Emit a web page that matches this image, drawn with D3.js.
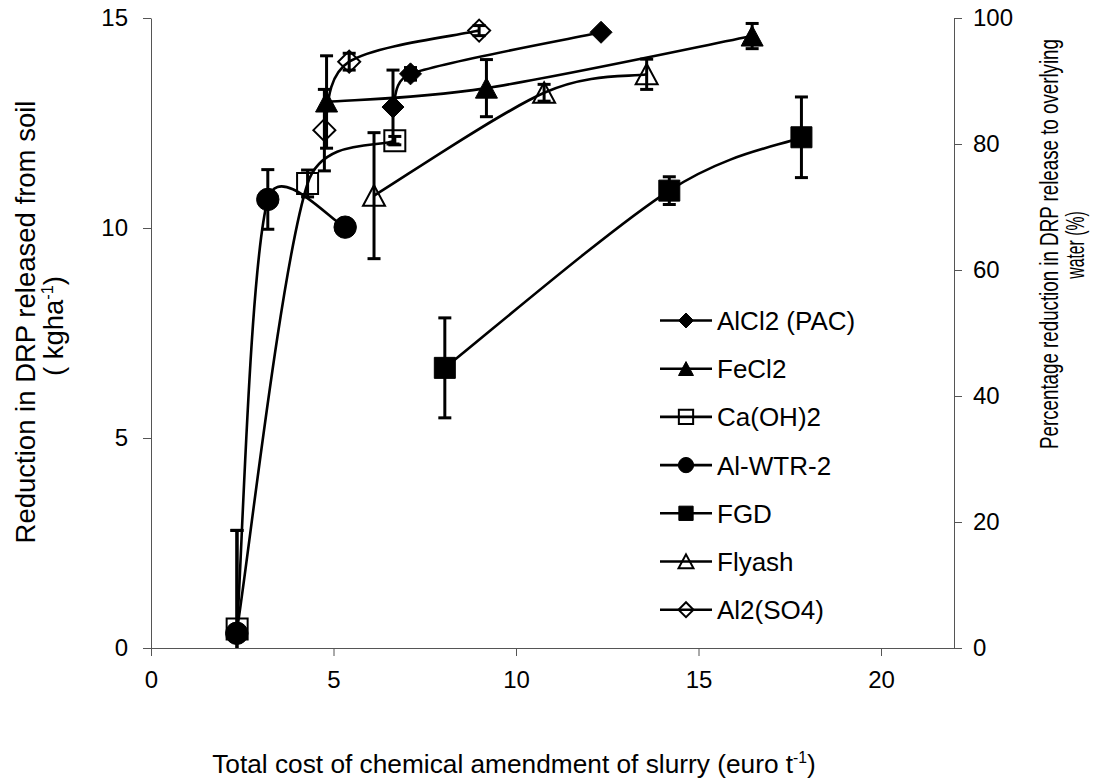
<!DOCTYPE html>
<html><head><meta charset="utf-8">
<script src="https://cdn.jsdelivr.net/npm/d3@7"></script>
<style>
body{margin:0;background:#fff}
text{font-family:"Liberation Sans",Arial,sans-serif;fill:#000}
</style>
</head><body>
<svg id="chart" width="1097" height="780"></svg>
<script>
// ---------------- data ----------------
const seriesNames = ["AlCl2 (PAC)", "FeCl2", "Ca(OH)2", "Al-WTR-2", "FGD", "Flyash", "Al2(SO4)"];
const alcl2Cost = [6.63, 7.11, 12.33], alcl2Red = [12.88, 13.67, 14.66], alcl2Err = [0.88, 0.15, 0];
const fecl2Cost = [4.81, 9.19, 16.47], fecl2Red = [13.0, 13.33, 14.57], fecl2Err = [1.1, 0.68, 0.3];
const caohCost  = [2.36, 4.29, 6.68],  caohRed  = [0.45, 11.06, 12.08], caohErr  = [2.35, 0.32, 0.1];
const wtrCost   = [2.35, 3.2, 5.32],   wtrRed   = [0.35, 10.68, 10.02], wtrErr   = [2.45, 0.71, 0];
const fgdCost   = [8.05, 14.2, 17.82], fgdRed   = [6.67, 10.89, 12.16], fgdErr   = [1.19, 0.33, 0.96];
const flyCost   = [6.11, 10.77, 13.58], flyRed  = [10.77, 13.22, 13.66], flyErr  = [1.5, 0.2, 0.36];
const alsoCost  = [4.75, 5.43, 8.99],  alsoRed  = [12.33, 13.96, 14.7], alsoErr  = [0.97, 0.2, 0.12];
const xTicks = [0, 5, 10, 15, 20];
const yTicks = [0, 5, 10, 15];
const y2Ticks = [0, 20, 40, 60, 80, 100];

// ---------------- build ----------------
const costs = [alcl2Cost, fecl2Cost, caohCost, wtrCost, fgdCost, flyCost, alsoCost];
const reds  = [alcl2Red, fecl2Red, caohRed, wtrRed, fgdRed, flyRed, alsoRed];
const errs  = [alcl2Err, fecl2Err, caohErr, wtrErr, fgdErr, flyErr, alsoErr];
const shapes = ["diamond", "triangle", "square", "circle", "square", "triangle", "diamond"];
const filled = [true, true, false, true, true, false, false];
const series = seriesNames.map((name, i) => ({
  name, shape: shapes[i], filled: filled[i],
  pts: costs[i].map((c, j) => ({x: c, y: reds[i][j], e: errs[i][j]}))
}));

const svg = d3.select("#chart");
const L = 151, R = 954, T = 18, B = 648;
const x = d3.scaleLinear().domain([0, 22]).range([L, R]);
const y = d3.scaleLinear().domain([0, 15]).range([B, T]);
const y2 = d3.scaleLinear().domain([0, 100]).range([B, T]);
const axisColor = "#555";

function styleAxis(g) {
  g.selectAll("path,line").attr("stroke", axisColor).attr("stroke-width", 1);
  g.selectAll("text").style("font-size", "24px").attr("fill", "#000")
    .style("font-family", '"Liberation Sans", Arial, sans-serif');
}
svg.append("g").attr("transform", `translate(0,${B})`)
  .call(d3.axisBottom(x).tickValues(xTicks).tickSize(8).tickSizeOuter(0).tickPadding(15))
  .call(styleAxis);
svg.append("g").attr("transform", `translate(${L},0)`)
  .call(d3.axisLeft(y).tickValues(yTicks).tickSize(8).tickSizeOuter(0).tickPadding(15))
  .call(styleAxis);
svg.append("g").attr("transform", `translate(${R},0)`)
  .call(d3.axisRight(y2).tickValues(y2Ticks).tickSize(8).tickSizeOuter(0).tickPadding(11))
  .call(styleAxis);

svg.append("clipPath").attr("id", "plotclip").append("rect")
  .attr("x", L).attr("y", T - 6).attr("width", R - L).attr("height", B - T + 6);

function markerPath(shape, s) {
  if (shape === "diamond") return `M0,${-11*s}L${11*s},0L0,${11*s}L${-11*s},0Z`;
  if (shape === "triangle") return `M0,${-10.5*s}L${11*s},${10*s}L${-11*s},${10*s}Z`;
  if (shape === "square") return `M${-10.5*s},${-10.5*s}H${10.5*s}V${10.5*s}H${-10.5*s}Z`;
  if (shape === "circle") { const r = 11.2*s; return `M${r},0A${r},${r} 0 1,1 ${-r},0A${r},${r} 0 1,1 ${r},0Z`; }
}
function drawMarker(g, shape, isFilled, s) {
  g.append("path").attr("d", markerPath(shape, s))
    .attr("fill", isFilled ? "#000" : "none")
    .attr("stroke", "#000").attr("stroke-width", isFilled ? 1 : 2)
    .attr("stroke-linejoin", "miter");
}

// Excel-style smoothed line (Bezier, tangent/6, clamped to half segment length)
function ExcelSmooth(context) { this._context = context; }
ExcelSmooth.prototype = {
  areaStart() { this._line = 0; }, areaEnd() { this._line = NaN; },
  lineStart() { this._pts = []; },
  point(px, py) { this._pts.push([+px, +py]); },
  lineEnd() {
    const p = this._pts, n = p.length, c = this._context;
    if (!n) return;
    c.moveTo(p[0][0], p[0][1]);
    for (let i = 0; i < n - 1; i++) {
      const a = p[Math.max(i - 1, 0)], b = p[i], d = p[i + 1], e = p[Math.min(i + 2, n - 1)];
      const seg = Math.hypot(d[0] - b[0], d[1] - b[1]);
      const clamp = (vx, vy) => {
        const len = Math.hypot(vx, vy), mx = seg / 2;
        return len > mx && len > 0 ? [vx * mx / len, vy * mx / len] : [vx, vy];
      };
      const t1 = clamp((d[0] - a[0]) / 6, (d[1] - a[1]) / 6);
      const t2 = clamp((e[0] - b[0]) / 6, (e[1] - b[1]) / 6);
      c.bezierCurveTo(b[0] + t1[0], b[1] + t1[1], d[0] - t2[0], d[1] - t2[1], d[0], d[1]);
    }
  }
};
const curveExcel = ctx => new ExcelSmooth(ctx);

const line = d3.line().x(d => x(d.x)).y(d => y(d.y)).curve(curveExcel);
const gLines = svg.append("g");
series.forEach(s => {
  gLines.append("path").attr("d", line(s.pts)).attr("fill", "none")
    .attr("stroke", "#000").attr("stroke-width", 2.6);
});
const gErr = svg.append("g").attr("clip-path", "url(#plotclip)");
series.forEach(s => {
  s.pts.filter(p => p.e > 0).forEach(p => {
    const px = x(p.x), y0 = y(p.y + p.e), y1 = y(p.y - p.e);
    gErr.append("line").attr("x1", px).attr("x2", px).attr("y1", y0).attr("y2", y1)
      .attr("stroke", "#000").attr("stroke-width", 3);
    [y0, y1].forEach(yy => gErr.append("line").attr("x1", px - 6.5).attr("x2", px + 6.5)
      .attr("y1", yy).attr("y2", yy).attr("stroke", "#000").attr("stroke-width", 3));
  });
});
const gMk = svg.append("g");
series.forEach(s => {
  s.pts.forEach(p => {
    const g = gMk.append("g").attr("transform", `translate(${x(p.x)},${y(p.y)})`);
    drawMarker(g, s.shape, s.filled, 1);
  });
});

// legend
const leg = svg.append("g");
series.forEach((s, i) => {
  const cy = 320.5 + i * 48.2;
  leg.append("line").attr("x1", 660).attr("x2", 712).attr("y1", cy).attr("y2", cy)
    .attr("stroke", "#000").attr("stroke-width", 2.6);
  const g = leg.append("g").attr("transform", `translate(686,${cy})`);
  drawMarker(g, s.shape, s.filled, 0.68);
  leg.append("text").attr("x", 717).attr("y", cy + 9.5).style("font-size", "26px").text(s.name);
});

// titles
function title(parts, cx, cy, rot, size, targetLen) {
  const t = svg.append("text").attr("text-anchor", "middle").style("font-size", size + "px");
  parts.forEach(p => {
    const ts = t.append("tspan").text(p.t);
    if (p.sup) ts.style("font-size", (size * 0.6) + "px").attr("dy", -size * 0.38);
    if (p.after) ts.attr("dy", size * 0.38);
  });
  let k = 1;
  if (targetLen) k = targetLen / t.node().getBBox().width;
  t.attr("transform", `translate(${cx},${cy}) rotate(${rot}) scale(${k},1)`);
}
title([{t: "Total cost of chemical amendment of slurry (euro t"}, {t: "-1", sup: true}, {t: ")", after: true}],
  514, 773, 0, 26, 604);
title([{t: "Reduction in DRP released from soil"}], 35, 322, -90, 27, 443);
title([{t: "( kgha"}, {t: "-1", sup: true}, {t: ")", after: true}], 63, 326, -90, 27, 100);
title([{t: "Percentage reduction in DRP release to overlying"}], 1058, 244, -90, 26, 410);
title([{t: "water (%)"}], 1084, 245, -90, 26, 68);
</script>
</body></html>
